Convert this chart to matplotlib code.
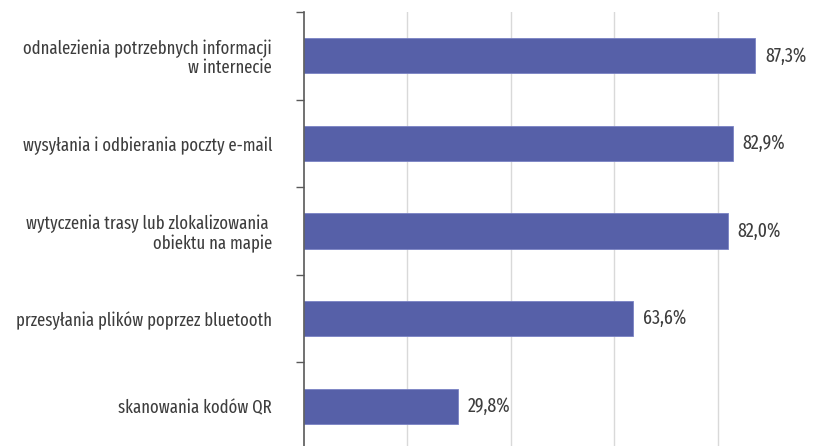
import matplotlib
matplotlib.use("Agg")
import matplotlib.pyplot as plt

categories = [
    "odnalezienia potrzebnych informacji\nw internecie",
    "wysyłania i odbierania poczty e-mail",
    "wytyczenia trasy lub zlokalizowania \nobiektu na mapie",
    "przesyłania plików poprzez bluetooth",
    "skanowania kodów QR",
]
values = [87.3, 82.9, 82.0, 63.6, 29.8]
value_labels = ["87,3%", "82,9%", "82,0%", "63,6%", "29,8%"]

plt.rcParams["font.family"] = ["Fira Sans Extra Condensed", "DejaVu Sans"]
plt.rcParams["font.weight"] = "normal"

text_color = "#3d3d3d"
bar_color = "#5660A8"

fig = plt.figure(figsize=(8.17, 4.46), dpi=100)
ax = fig.add_axes([304 / 817, -4 / 446, (821 - 304) / 817, (450 - 12) / 446])

n = len(categories)
ypos = list(range(n))
ax.barh(ypos, values, height=0.4, color=bar_color, edgecolor="#7a82c4",
        linewidth=0.6, zorder=3)

for y, v, lab in zip(ypos, values, value_labels):
    ax.text(v + 1.9, y, lab, va="center", ha="left", fontsize=14,
            color=text_color, zorder=4)

ax.set_xlim(0, 100)
ax.set_ylim(n - 0.5, -0.5)
ax.set_xticks([20, 40, 60, 80, 100])
ax.xaxis.grid(True, color="#d9d9d9", linewidth=1.0, zorder=0)
ax.tick_params(axis="x", length=0, labelbottom=False)

ax.set_yticks(ypos)
ax.set_yticklabels(categories, fontsize=13, color=text_color, linespacing=1.1)
ax.set_yticks([i - 0.5 for i in range(n + 1)], minor=True)
ax.tick_params(axis="y", which="major", length=0, pad=23)
ax.tick_params(axis="y", which="minor", length=6, width=1, color="#595959")
for lbl in ax.get_yticklabels():
    lbl.set_multialignment("right")

for side in ["top", "right", "bottom"]:
    ax.spines[side].set_visible(False)
ax.spines["left"].set_color("#595959")
ax.spines["left"].set_linewidth(1.2)
ax.spines["left"].set_zorder(5)

fig.savefig("out.png", dpi=100)
